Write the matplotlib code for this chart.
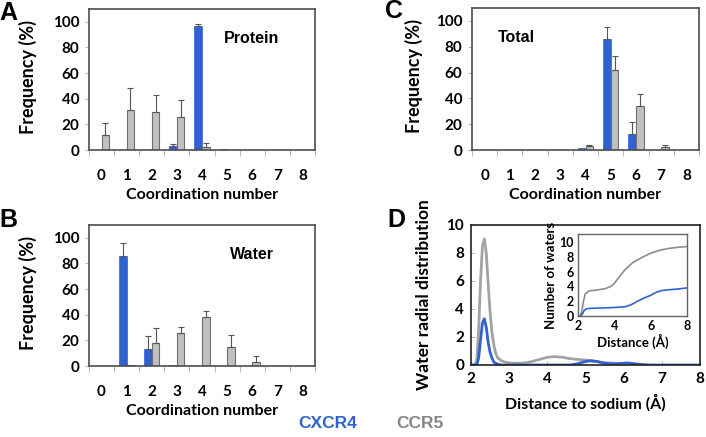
import matplotlib.pyplot as plt
import numpy as np

# colours
BLUE = '#2f62d0'
GREY_BAR = '#c0c0c0'
GREY_LINE = '#a3a3a3'

# coordination numbers
coord = [0, 1, 2, 3, 4, 5, 6, 7, 8]

# panel A - protein
prot_cxcr4 = [0, 0, 0, 3, 97, 0.5, 0, 0, 0]
prot_cxcr4_err = [0, 0, 0, 1.5, 1.5, 0, 0, 0, 0]
prot_ccr5 = [12, 31, 30, 26, 2.5, 0, 0, 0, 0]
prot_ccr5_err = [9, 17, 13, 13, 3, 0, 0, 0, 0]

# panel B - water
wat_cxcr4 = [0, 86, 13.5, 0.5, 0, 0, 0, 0, 0]
wat_cxcr4_err = [0, 10, 10, 0, 0, 0, 0, 0, 0]
wat_ccr5 = [0, 0.5, 18, 25.5, 38, 15, 3.5, 0, 0]
wat_ccr5_err = [0, 0, 12, 5, 5, 9.5, 4.5, 0, 0]

# panel C - total
tot_cxcr4 = [0, 0, 0, 0, 1.5, 86, 12.5, 0, 0]
tot_cxcr4_err = [0, 0, 0, 0, 0, 9.5, 9.5, 0, 0]
tot_ccr5 = [0, 0, 0, 0, 3, 62, 34, 2.5, 0]
tot_ccr5_err = [0, 0, 0, 0, 1, 11, 9.5, 1.5, 0]

# panel D - radial distribution
rdf_ccr5_x = [2.0, 2.1, 2.15, 2.2, 2.25, 2.3, 2.35, 2.4, 2.45, 2.5, 2.55, 2.6, 2.65, 2.7, 2.8, 2.9,
              3.0, 3.2, 3.4, 3.6, 3.8, 4.0, 4.2, 4.4, 4.6, 4.8, 5.0, 5.2, 5.4, 5.6, 5.8, 6.0,
              6.2, 6.4, 6.6]
rdf_ccr5_y = [0, 0, 0.3, 2.5, 6.0, 8.5, 9.0, 8.0, 5.8, 3.8, 2.3, 1.4, 0.8, 0.5, 0.3, 0.2,
              0.15, 0.12, 0.15, 0.25, 0.4, 0.55, 0.6, 0.55, 0.45, 0.4, 0.35, 0.3, 0.2, 0.15, 0.12, 0.1,
              0.08, 0.05, 0.0]
rdf_cxcr4_x = [2.0, 2.15, 2.2, 2.25, 2.3, 2.35, 2.4, 2.45, 2.5, 2.55, 2.6, 2.7, 2.8, 4.6, 4.8,
               5.0, 5.1, 5.3, 5.5, 5.7, 5.9, 6.1, 6.3, 6.5, 6.7, 8.0]
rdf_cxcr4_y = [0, 0, 0.5, 1.8, 3.0, 3.3, 2.7, 1.6, 0.9, 0.5, 0.2, 0.05, 0, 0, 0.1,
               0.25, 0.3, 0.25, 0.12, 0.08, 0.1, 0.15, 0.08, 0.02, 0, 0]

# inset - number of waters
nw_ccr5_x = [2.1, 2.2, 2.3, 2.4, 2.6, 3.0, 3.5, 3.8, 4.0, 4.3, 4.6, 5.0, 5.5, 6.0, 6.5, 7.0, 7.5, 8.0]
nw_ccr5_y = [0, 0.5, 2.0, 3.0, 3.4, 3.5, 3.7, 4.0, 4.4, 5.4, 6.3, 7.2, 7.9, 8.5, 8.9, 9.15, 9.3, 9.4]
nw_cxcr4_x = [2.15, 2.25, 2.35, 2.5, 2.8, 3.5, 4.0, 4.6, 4.9, 5.2, 5.6, 6.0, 6.3, 6.6, 7.0, 7.5, 8.0]
nw_cxcr4_y = [0, 0.3, 0.8, 1.0, 1.05, 1.1, 1.15, 1.25, 1.5, 1.9, 2.4, 2.8, 3.2, 3.45, 3.55, 3.65, 3.8]

TICK_FONT = dict(family='Lato', weight='bold')
TITLE_FONT = dict(family='Liberation Sans', weight='bold')

W, H = 706, 437
fig = plt.figure(figsize=(W / 100, H / 100), dpi=100)


def px_axes(l, t, r, b):
    return fig.add_axes([l / W, 1 - b / H, (r - l) / W, (b - t) / H])


def style_ticks(ax, size):
    for t in ax.get_xticklabels() + ax.get_yticklabels():
        t.set_family('Lato')
        t.set_weight('bold')
        t.set_fontsize(size)


def bar_panel(ax, cx, cx_err, cc, cc_err, label, lx, ylabx):
    x = np.array(coord)
    w = 0.3
    ax.bar(x - w / 2, cx, w, color=BLUE, edgecolor=BLUE, linewidth=0.5, zorder=2)
    ax.bar(x + w / 2, cc, w, color=GREY_BAR, edgecolor='#6e6e6e', linewidth=0.8, zorder=2)
    cxe = np.array(cx_err)
    cce = np.array(cc_err)
    m = cxe > 0
    ax.errorbar((x - w / 2)[m], np.array(cx)[m], yerr=[np.zeros(m.sum()), cxe[m]], fmt='none',
                ecolor='#555555', elinewidth=0.8, capsize=2, capthick=0.8, zorder=3)
    m = cce > 0
    ax.errorbar((x + w / 2)[m], np.array(cc)[m], yerr=[np.zeros(m.sum()), cce[m]], fmt='none',
                ecolor='#555555', elinewidth=0.8, capsize=2, capthick=0.8, zorder=3)
    ax.set_xlim(-0.5, 8.5)
    ax.set_ylim(0, 110)
    ax.set_yticks([0, 20, 40, 60, 80, 100])
    ax.set_xticks(x)
    ax.set_xticks(np.arange(-0.5, 9, 1), minor=True)
    ax.tick_params(axis='x', which='major', length=0, pad=14)
    ax.tick_params(axis='x', which='minor', length=4, color='#bbbbbb', width=0.8)
    ax.tick_params(axis='y', length=3, color='#bbbbbb', pad=4)
    style_ticks(ax, 11)
    for s in ax.spines.values():
        s.set_color('#4d4d4d')
        s.set_linewidth(1.2)
    ax.set_xlabel('Coordination number', fontsize=11.5, **TICK_FONT)
    ax.xaxis.set_label_coords(0.5, -0.27)
    ax.set_ylabel('Frequency (%)', fontsize=13, **TICK_FONT)
    ax.yaxis.set_label_coords(ylabx, 0.52)
    ax.text(lx, 0.79, label, transform=ax.transAxes, fontsize=11.5, ha='center', va='center',
            **TITLE_FONT)


axA = px_axes(89, 9, 315, 150)
bar_panel(axA, prot_cxcr4, prot_cxcr4_err, prot_ccr5, prot_ccr5_err, 'Protein', 0.72, -0.23)
axB = px_axes(89, 225, 315, 366)
bar_panel(axB, wat_cxcr4, wat_cxcr4_err, wat_ccr5, wat_ccr5_err, 'Water', 0.72, -0.23)
axC = px_axes(472, 8, 699, 150)
bar_panel(axC, tot_cxcr4, tot_cxcr4_err, tot_ccr5, tot_ccr5_err, 'Total', 0.195, -0.215)

# panel D
axD = px_axes(471, 225, 700, 365)
axD.plot(rdf_ccr5_x, rdf_ccr5_y, color=GREY_LINE, lw=2)
axD.plot(rdf_cxcr4_x, rdf_cxcr4_y, color=BLUE, lw=2)
axD.set_xlim(2, 8)
axD.set_ylim(0, 10)
axD.set_xticks([2, 3, 4, 5, 6, 7, 8])
axD.set_yticks([0, 2, 4, 6, 8, 10])
axD.tick_params(length=3, color='#bbbbbb', direction='in', pad=5)
style_ticks(axD, 11)
for s in axD.spines.values():
    s.set_color('#222222')
    s.set_linewidth(1.2)
axD.set_xlabel('Distance to sodium (Å)', fontsize=11.5, **TICK_FONT)
axD.xaxis.set_label_coords(0.5, -0.21)
axD.set_ylabel('Water radial distribution', fontsize=12.5, **TICK_FONT)
axD.yaxis.set_label_coords(-0.17, 0.5)

# inset
axI = px_axes(578, 234, 687, 316)
axI.plot(nw_ccr5_x, nw_ccr5_y, color='#8c8c8c', lw=1.2)
axI.plot(nw_cxcr4_x, nw_cxcr4_y, color=BLUE, lw=1.2)
axI.set_xlim(2, 8)
axI.set_ylim(0, 11.1)
axI.set_xticks([2, 4, 6, 8])
axI.set_yticks([0, 2, 4, 6, 8, 10])
axI.tick_params(length=0, pad=3)
style_ticks(axI, 9)
for s in axI.spines.values():
    s.set_color('#666666')
    s.set_linewidth(1.0)
axI.set_xlabel('Distance (Å)', fontsize=9.5, labelpad=1, **TICK_FONT)
axI.set_ylabel('Number of waters', fontsize=9.5, labelpad=2, **TICK_FONT)

# panel letters
for letter, x, y in [('A', 8, 13), ('B', 8, 220), ('C', 394, 11), ('D', 396, 220)]:
    fig.text(x / W, 1 - y / H, letter, fontsize=18, ha='center', va='center', **TITLE_FONT)

# legend
fig.text(328 / W, 1 - 423 / H, 'CXCR4', color=BLUE, fontsize=12.5, ha='center', va='center',
         **TITLE_FONT)
fig.text(420 / W, 1 - 423 / H, 'CCR5', color='#858585', fontsize=12.5, ha='center', va='center',
         **TITLE_FONT)

fig.savefig('out.png', dpi=100)
